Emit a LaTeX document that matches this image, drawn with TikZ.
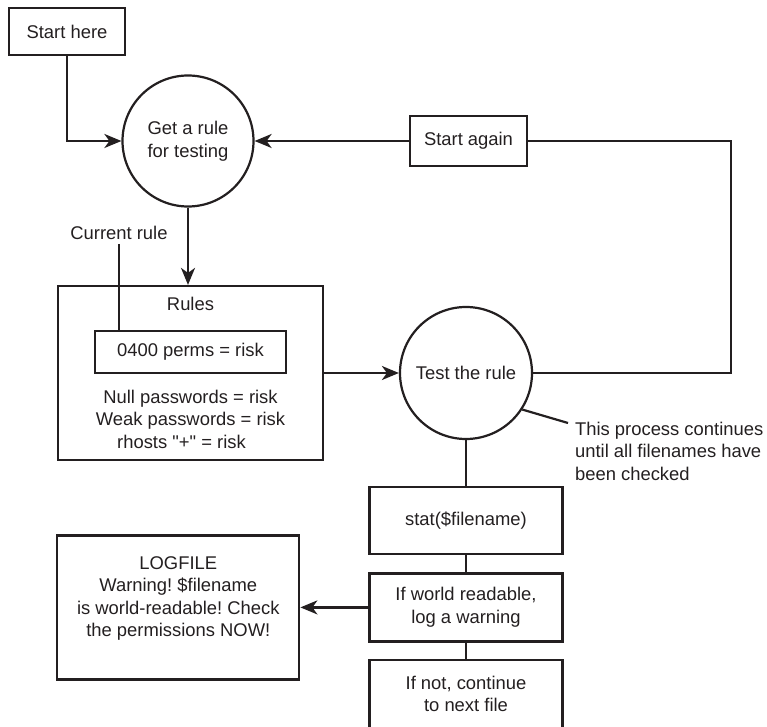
\documentclass[tikz,border=0pt]{standalone}
\usepackage{fontspec}
\setmainfont{Liberation Sans}[Ligatures=TeXOff]
\usetikzlibrary{arrows.meta, positioning, calc}
\definecolor{ink}{HTML}{231F20}
\newcommand{\figfont}{\fontsize{18.4}{22.5}\selectfont\frenchspacing}

\begin{document}
\begin{tikzpicture}[
  x=1pt, y=1pt,
  line width=2.2pt, draw=ink, text=ink,
  box/.style={rectangle, draw, inner sep=0pt, align=center, font=\figfont},
  proc/.style={circle, draw, inner sep=0pt, align=center, font=\figfont},
  txt/.style={inner sep=0pt, align=center, font=\figfont},
  arr/.style={-{Stealth[length=17pt, width=14pt, inset=5pt]}}
]
  \useasboundingbox (0,0) rectangle (767,726);

  \node[box, minimum width=116pt, minimum height=47pt] (start) at (67,694.5) {Start here};
  \node[proc, minimum size=131pt] (get) at (188,585) {Get a rule\\for testing};
  \node[box, minimum width=117pt, minimum height=50pt] (again) at (468.5,585) {Start again};
  \coordinate (corner) at (731,585);

  % rule table
  \node[box, minimum width=265pt, minimum height=174pt] (rules) at (190.5,353) {};
  \node[txt, anchor=base] (rulestitle) at (190.5,415) {Rules};
  \node[box, minimum width=191pt, minimum height=42pt] (current) at (190.5,374) {0400 perms = risk};
  \node[txt] (risks) at (190.5,307) {Null passwords = risk\\Weak passwords = risk\\rhosts "+" = risk\hspace*{18pt}};
  \node[txt, inner sep=3pt] (curlabel) at (119,493) {Current rule};

  \node[proc, minimum size=132pt] (test) at (466,353) {Test the rule};
  \coordinate (notep) at (568,303);
  \node[txt, anchor=west, align=left] (note) at (574,275) {This process continues\\until all filenames have\\been checked};

  % per-file checks
  \node[box, minimum width=193pt, minimum height=67pt, below=46pt of test] (stat) {stat(\$filename)};
  \node[box, minimum width=193pt, minimum height=68pt, below=17pt of stat] (world) {If world readable,\\log a warning};
  \node[box, minimum width=193pt, minimum height=69pt, below=16pt of world] (next) {If not, continue\\to next file};
  \node[box, minimum width=242pt, minimum height=144pt, left=68pt of world] (log) {};
  \node[txt] (logtext) at ($(log.center)+(0,9)$) {LOGFILE\\Warning! \$filename\\is world-readable! Check\\the permissions NOW!};

  \draw[arr] (start.south) |- (get.west);
  \draw[arr] (again.west) -- (get.east);
  \draw (test.east) -| (corner) -- (again.east);
  \draw[arr] (get.south) -- (get.south |- rules.north);
  \draw (curlabel.south) -- (curlabel.south |- current.north);
  \draw[arr] (rules.east) -- (test.west);
  \draw (test.-33) -- (notep);
  \draw (test.south) -- (stat.north);
  \draw (stat.south) -- (world.north);
  \draw (world.south) -- (next.north);
  \draw[arr] (world.west) -- (log.east);
\end{tikzpicture}
\end{document}
